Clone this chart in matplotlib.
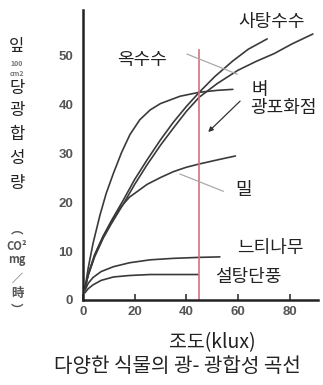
import matplotlib
matplotlib.use("Agg")
import matplotlib.pyplot as plt

plt.rcParams['font.family'] = ['Noto Sans CJK KR', 'DejaVu Sans']

# Light-response curves: illuminance (klux) vs. photosynthesis rate
sugarcane_x = [0.8, 2, 4.5, 7.8, 11, 15.5, 20, 24.8, 30, 35, 40, 45, 52, 60, 67, 74, 81, 89]
sugarcane_y = [2.5, 5.0, 8.8, 12.6, 15.6, 19.5, 23.6, 27.6, 31.6, 35.1, 38.5, 41.4,
               44.2, 46.9, 48.7, 50.3, 52.3, 54.3]
corn_x = [0.8, 2, 4.5, 7.8, 11, 15.5, 20, 24.8, 30, 35, 40, 45, 51, 58, 64, 71.3]
corn_y = [2.5, 5.2, 9.2, 13.0, 16.2, 20.3, 24.6, 28.6, 32.7, 36.3, 39.5, 42.4,
          45.6, 48.8, 51.2, 53.3]
rice_x = [0.8, 2, 3.9, 6.6, 9, 11.8, 15, 18.2, 22, 26, 30, 37.6, 45, 52, 58]
rice_y = [2.5, 6.5, 11.6, 17.4, 21.8, 25.9, 30.2, 33.8, 36.8, 38.8, 40.1, 41.6,
          42.4, 42.8, 43.0]
wheat_x = [0.8, 2, 4.5, 7.8, 11, 14, 18, 24.8, 30, 35, 40, 45.3, 52, 59]
wheat_y = [2.5, 5.2, 9.2, 13.0, 16.0, 18.6, 21.0, 23.6, 25.0, 26.2, 27.1, 27.8,
           28.6, 29.4]
zelkova_x = [0.8, 2, 3.9, 7, 11.8, 18, 26, 35, 45, 53]
zelkova_y = [2.0, 3.4, 4.6, 5.8, 6.8, 7.6, 8.2, 8.5, 8.7, 8.8]
maple_x = [0.8, 2, 3.9, 7, 11.8, 18, 26, 35, 44.6]
maple_y = [1.5, 2.3, 3.1, 4.0, 4.7, 5.0, 5.2, 5.2, 5.2]

saturation_x = 45
saturation_top = 51

x_ticks = [0, 20, 40, 60, 80]
y_ticks = [0, 10, 20, 30, 40, 50]

fig = plt.figure(figsize=(3.23, 3.85), dpi=100)
ax = fig.add_axes([0.257, 0.2208, 0.7276, 0.7532])
ax.set_xlim(0, 91)
ax.set_ylim(0, 59.2)

line_kw = dict(color='#3a3a3a', lw=1.2, solid_capstyle='round', solid_joinstyle='round')
for xs, ys in [(sugarcane_x, sugarcane_y), (corn_x, corn_y), (rice_x, rice_y),
               (wheat_x, wheat_y), (zelkova_x, zelkova_y), (maple_x, maple_y)]:
    ax.plot(xs, ys, **line_kw)

# light saturation point marker
ax.plot([saturation_x, saturation_x], [0, saturation_top], color='#d4707f', lw=1.2)

# leader lines
ax.plot([40.3, 59.7], [50.2, 46.1], color='#aaaaaa', lw=0.9)
ax.plot([37.6, 54.3], [25.7, 22.2], color='#aaaaaa', lw=0.9)
ax.annotate('', xy=(47.7, 33.9), xytext=(61.6, 41.0),
            arrowprops=dict(arrowstyle='-|>', color='#333333', lw=0.9,
                            mutation_scale=7))

label_kw = dict(fontsize=13, color='#222222', ha='center', va='center')
ax.text(72.9, 56.7, '사탕수수', **label_kw)
ax.text(22.9, 49.0, '옥수수', **label_kw)
ax.text(68.6, 42.9, '벼', **label_kw)
ax.text(77.5, 39.2, '광포화점', **label_kw)
ax.text(62.0, 22.4, '밀', **label_kw)
ax.text(72.5, 10.6, '느티나무', **label_kw)
ax.text(64.0, 4.7, '설탕단풍', **label_kw)

for side in ['top', 'right']:
    ax.spines[side].set_visible(False)
for side in ['left', 'bottom']:
    ax.spines[side].set_linewidth(1.8)
    ax.spines[side].set_color('#222222')

ax.set_xticks(x_ticks)
ax.set_yticks(y_ticks)
ax.set_xticklabels([str(v) for v in x_ticks])
ax.set_yticklabels([str(v) for v in y_ticks])
ax.tick_params(axis='x', direction='in', length=4, width=1.2, color='#333333',
               pad=4, labelsize=9.5, labelcolor='#555555')
ax.tick_params(axis='y', length=0, pad=7, labelsize=9.5, labelcolor='#555555')
for lab in ax.get_xticklabels() + ax.get_yticklabels():
    lab.set_family(['Liberation Sans', 'DejaVu Sans'])
    lab.set_fontweight('bold')

# axis titles
fig.text(212 / 323, 1 - 343 / 385, '조도(klux)', fontsize=14, color='#222222',
         ha='center', va='center')
fig.text(177 / 323, 1 - 367 / 385, '다양한 식물의 광- 광합성 곡선', fontsize=14.5,
         color='#222222', ha='center', va='center')

# vertical y-axis label, stacked character by character
y_label_parts = [
    ('잎', 47, 12, '#222222'), ('100', 64, 5, '#777777'), ('cm2', 73, 5, '#777777'),
    ('당', 88, 12, '#222222'), ('광', 111, 12, '#222222'), ('합', 135, 12, '#222222'),
    ('성', 159, 12, '#222222'), ('량', 183, 12, '#222222'),
    ('︵', 230, 9, '#555555'), ('CO²', 246, 8, '#555555'), ('mg', 260, 8, '#555555'),
    ('／', 278, 8, '#555555'), ('時', 294, 9, '#555555'), ('︶', 310, 9, '#555555'),
]
for txt, py, fs, col in y_label_parts:
    fig.text(17 / 323, 1 - py / 385, txt, fontsize=fs, color=col,
             ha='center', va='center', fontweight='bold' if fs < 10 else 'normal')

fig.savefig('out.png', dpi=100)
